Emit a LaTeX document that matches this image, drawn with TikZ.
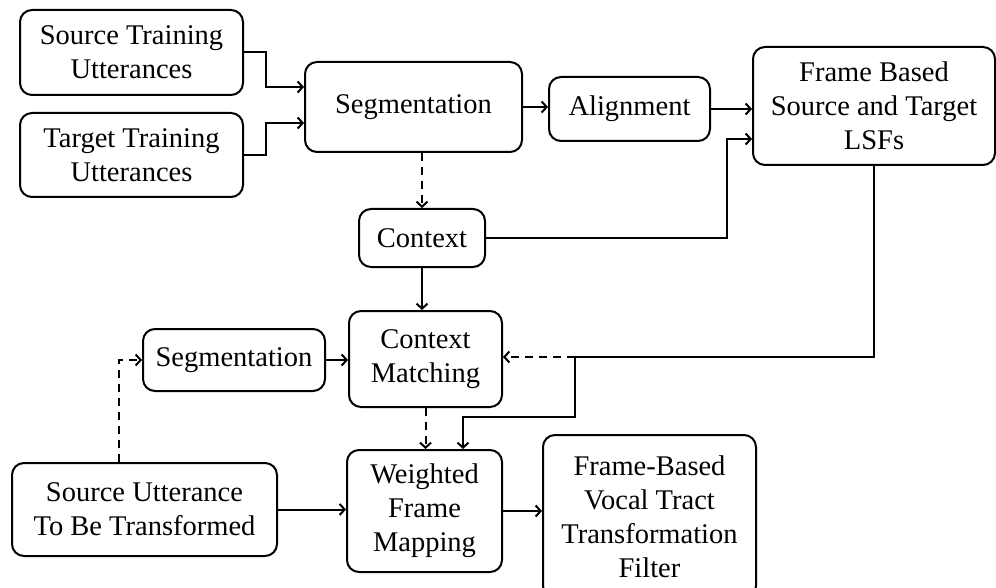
\documentclass[tikz,border=0pt]{standalone}
\usepackage{fontspec}
\setmainfont{Liberation Serif}
\usetikzlibrary{arrows.meta,calc}
\begin{document}
\begin{tikzpicture}[x=1pt,y=-1pt,line width=2pt,>={Straight Barb[length=5pt,width=11pt]},
box/.style={draw,rounded corners=12pt,align=center,inner sep=0pt,font=\fontsize{28.5}{34}\selectfont},
dsh/.style={dash pattern=on 8pt off 6pt}]
\useasboundingbox (0,0) rectangle (996,588);
\node[box,minimum width=223pt,minimum height=85pt] (src) at (131.5,52.5) {Source Training\\Utterances};
\node[box,minimum width=223pt,minimum height=84pt] (tgt) at (131.5,155) {Target Training\\Utterances};
\node[box,minimum width=217pt,minimum height=90pt] (seg) at (413.5,107) {Segmentation};
\node[box,minimum width=161pt,minimum height=64pt] (align) at (629.5,109) {Alignment};
\node[box,minimum width=242pt,minimum height=118pt] (lsf) at (874,106) {Frame Based\\Source and Target\\LSFs};
\node[box,minimum width=126pt,minimum height=58pt] (ctx) at (422,238) {Context};
\node[box,minimum width=153pt,minimum height=96pt] (match) at (425.5,359) {Context\\Matching};
\node[box,minimum width=182pt,minimum height=62pt] (seg2) at (234,360) {Segmentation};
\node[box,minimum width=265pt,minimum height=93pt] (utt) at (144.5,509.5) {Source Utterance\\To Be Transformed};
\node[box,minimum width=155pt,minimum height=122pt] (wfm) at (424.5,511) {Weighted\\Frame\\Mapping};
\node[box,minimum width=213pt,minimum height=163pt] (filt) at (649.5,516.5) {Frame-Based\\Vocal Tract\\Transformation\\Filter};
\coordinate (split) at (575,357);

\draw[->] (src.east) -| ++(22,0) |- ([yshift=20pt]seg.west);
\draw[->] (tgt.east) -| ++(22,0) |- ([yshift=-16pt]seg.west);
\draw[->] (seg.east) -- (seg.east -| align.west);
\draw[->] (align.east) -- (align.east -| lsf.west);
\draw[->,dsh] (ctx.north |- seg.south) -- (ctx.north);
\draw[->] (ctx.east) -| ++(241,0) |- ([yshift=-33pt]lsf.west);
\draw[->] (ctx.south) -- (ctx.south |- match.north);
\draw[->] (seg2.east) -- (seg2.east -| match.west);
\draw[->,dsh] ([xshift=-25.5pt]utt.north) |- (seg2.west);
\draw[->] (utt.east) -- (utt.east -| wfm.west);
\draw[->,dsh] (match.south) -- (match.south |- wfm.north);
\draw (lsf.south) |- (split);
\draw[->,dsh] (split) -- (match.east |- split);
\draw[->] (split) -- ++(0,60) -| ([xshift=38.5pt]wfm.north);
\draw[->] (wfm.east) -- (wfm.east -| filt.west);
\end{tikzpicture}
\end{document}
